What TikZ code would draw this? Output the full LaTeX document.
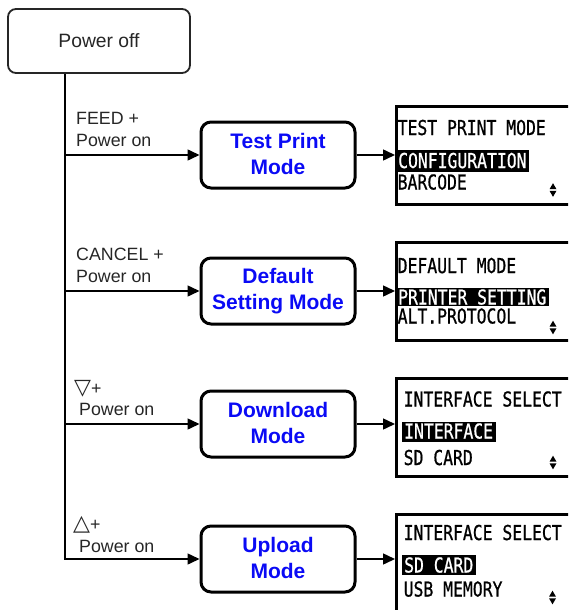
\documentclass[tikz,border=0pt]{standalone}
\usepackage{fontspec}
\setmainfont{Liberation Sans}
\newfontfamily\lcd[FakeStretch=0.8,FakeBold=0.8]{DejaVu Sans Mono}
\newfontfamily\symf{DejaVu Sans}
\usetikzlibrary{arrows.meta}
\definecolor{modeblue}{RGB}{10,10,245}
\newcommand\lowpad{\rule[-3pt]{0pt}{3pt}}
\begin{document}
\begin{tikzpicture}[x=1pt,y=-1pt,
  arr/.style={line width=1.5pt, -{Triangle[length=12pt,width=11pt]}},
  pwbox/.style={draw=black!85, line width=1.8pt, rounded corners=8pt, minimum width=182pt, minimum height=64pt, font=\fontsize{19.3}{22}\selectfont, text=black!85},
  modebox/.style={draw, line width=3pt, rounded corners=10pt, minimum width=154pt, minimum height=66pt, align=center, text=modeblue, font=\bfseries\fontsize{21}{26}\selectfont},
  screen/.style={draw, line width=2.5pt, minimum width=190pt, minimum height=98pt, anchor=north west, inner sep=0pt},
  lbl/.style={anchor=base west, inner sep=0pt, font=\fontsize{17.8}{21}\selectfont, text=black!85},
  symtxt/.style={anchor=base west, inner sep=0pt, font=\symf\fontsize{22}{24}\selectfont, text=black!85},
  lcdtxt/.style={anchor=base west, inner sep=0pt, font=\lcd\fontsize{20.5}{24}\selectfont},
  hl/.style={anchor=base west, fill=black, text=white, inner xsep=2.5pt, inner ysep=0pt, text height=17.5pt, text depth=3pt, font=\lcd\fontsize{20.5}{24}\selectfont},
  updn/.pic={\fill (-3.5,-0.8)--(3.5,-0.8)--(0,-6.8)--cycle; \fill (-3.5,0.8)--(3.5,0.8)--(0,6.8)--cycle;}
]
\useasboundingbox (0,0) rectangle (568,610);
\clip (0,0) rectangle (568,610);

% power off
\node[pwbox] (pw) at (99,41) {Power off};

% mode boxes
\node[modebox] (m1) at (278,155) {Test Print\\Mode\lowpad};
\node[modebox] (m2) at (278,291) {Default\\Setting Mode\lowpad};
\node[modebox] (m3) at (278,424) {Download\\Mode\lowpad};
\node[modebox] (m4) at (278,559) {Upload\\Mode\lowpad};

% screens
\node[screen] (s1) at (395,105) {};
\node[screen] (s2) at (395,241) {};
\node[screen] (s3) at (395,377) {};
\node[screen] (s4) at (395,513) {};

% connectors
\coordinate (vb) at (65,559);
\draw[arr, line join=miter] (pw.south -| vb) -- (vb) -- (m4);
\draw[arr] (m1 -| vb) -- (m1);
\draw[arr] (m2 -| vb) -- (m2);
\draw[arr] (m3 -| vb) -- (m3);
\draw[arr] (m1) -- (m1 -| s1.west);
\draw[arr] (m2) -- (m2 -| s2.west);
\draw[arr] (m3) -- (m3 -| s3.west);
\draw[arr] (m4) -- (m4 -| s4.west);

% labels
\node[lbl] (l1a) at (76,124) {FEED +};
\node[lbl] (l1b) at (76,146) {Power on};
\node[lbl] (l2a) at (76,260) {CANCEL +};
\node[lbl] (l2b) at (76,282) {Power on};
\node[symtxt] (l3a) at (74,394) {▽\fontspec{Liberation Sans}\fontsize{17.8}{21}\selectfont+};
\node[lbl] (l3b) at (79,415) {Power on};
\node[symtxt] (l4a) at (73,530) {△\fontspec{Liberation Sans}\fontsize{17.8}{21}\selectfont+};
\node[lbl] (l4b) at (79,552) {Power on};

% screen texts
\node[lcdtxt] (t1a) at (397.5,135) {TEST PRINT MODE};
\node[hl, text height=18pt, text depth=4pt] (t1b) at (395.5,168) {CONFIGURATION};
\node[lcdtxt] (t1c) at (397.5,189.5) {BARCODE};
\pic at (553,190) {updn};

\node[lcdtxt] (t2a) at (397.5,273) {DEFAULT MODE};
\node[hl, text height=17pt, text depth=1.5pt] (t2b) at (395.5,304.5) {PRINTER SETTING};
\node[lcdtxt] (t2c) at (397.5,323.5) {ALT.PROTOCOL};
\pic at (553,327.5) {updn};

\node[lcdtxt] (t3a) at (403.5,406.5) {INTERFACE SELECT};
\node[hl, text height=17pt, text depth=3.4pt] (t3b) at (401.5,438.5) {INTERFACE};
\node[lcdtxt] (t3c) at (403.5,465) {SD CARD};
\pic at (553,462.5) {updn};

\node[lcdtxt] (t4a) at (403.5,540) {INTERFACE SELECT};
\node[hl, text height=17.7pt, text depth=2.4pt] (t4b) at (401.5,572.5) {SD CARD};
\node[lcdtxt] (t4c) at (403.5,596.5) {USB MEMORY};
\pic at (552.5,597.5) {updn};
\end{tikzpicture}
\end{document}
